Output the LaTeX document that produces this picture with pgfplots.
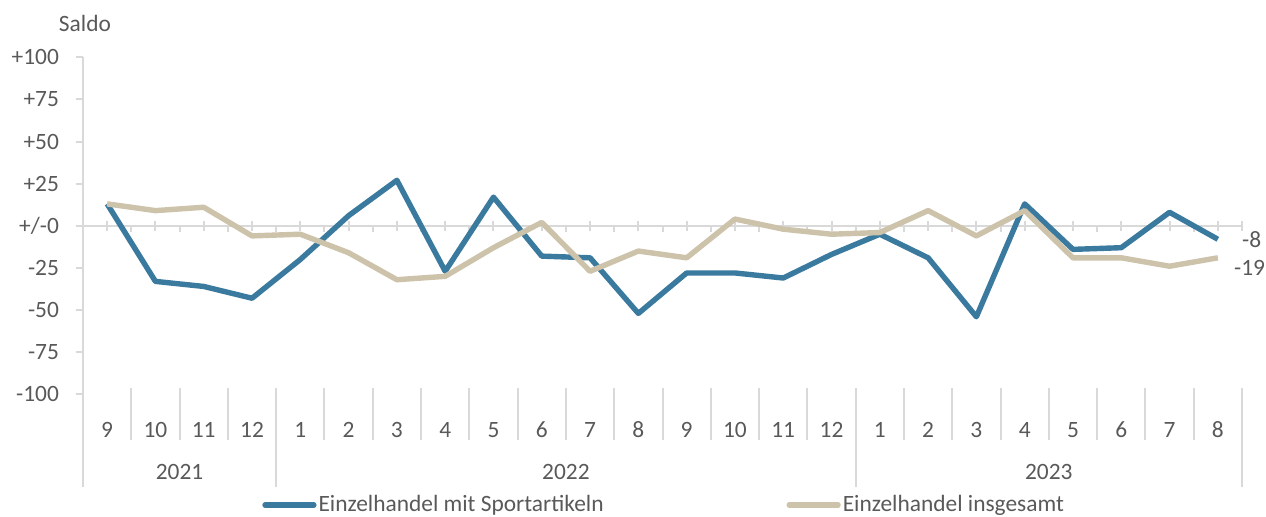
\documentclass[border=0pt]{standalone}
\usepackage{pgfplots}
\pgfplotsset{compat=1.18}
\usepackage{fontspec}
\setmainfont{Carlito}
\definecolor{sblue}{HTML}{3B7A9F}
\definecolor{stan}{HTML}{CDC2AA}
\definecolor{txt}{HTML}{595959}
\definecolor{axg}{HTML}{D9D9D9}
\begin{document}
\begin{tikzpicture}[font=\fontsize{11.7}{14}\selectfont, text=txt]
\begin{axis}[
  at={(41.5pt,61.35pt)}, anchor=south west,
  scale only axis, width=579.5pt, height=168.5pt,
  xmin=-0.5, xmax=23.5, ymin=-100, ymax=100,
  clip=false,
  axis y line*=left, axis x line*=bottom,
  x axis line style={draw=none},
  y axis line style={axg, line width=1pt},
  ytick={-100,-75,-50,-25,0,25,50,75,100},
  yticklabels={-100,-75,-50,-25,+/-0,+25,+50,+75,+100},
  ytick style={axg, line width=1pt},
  major tick length=3.5pt, tick align=outside,
  yticklabel style={anchor=east, inner sep=0pt, xshift=-8.35pt},
  xtick={0,...,23},
  xticklabels={9,10,11,12,1,2,3,4,5,6,7,8,9,10,11,12,1,2,3,4,5,6,7,8},
  xtick style={draw=none},
  xticklabel style={anchor=center, inner sep=0pt, yshift=-14.35pt},
  legend columns=2,
  legend style={at={(0.1544,-0.3285)}, anchor=west, draw=none, fill=none,
    inner sep=0pt, nodes={inner sep=1pt, text=txt}},
  legend image code/.code={\draw[#1, line cap=round] (0pt,0pt) -- (24.4pt,0pt);},
]
% zero line with ticks
\draw[axg, line width=1pt] (axis cs:-0.5,0) -- (axis cs:23.5,0);
\pgfplotsinvokeforeach{0,1,2,3,4,5,6,7,8,9,10,11,12,13,14,15,16,17,18,19,20,21,22,23,23.5}{
  \draw[axg, line width=1pt] (axis cs:#1,2.6) -- (axis cs:#1,-2.8);
}
\pgfplotsinvokeforeach{0.5,1.5,2.5,3.5,4.5,5.5,6.5,7.5,8.5,9.5,10.5,11.5,12.5,13.5,14.5,15.5,16.5,17.5,18.5,19.5,20.5,21.5,22.5}{
  \draw[axg, line width=1pt] (axis cs:#1,0) -- (axis cs:#1,-3.4);
}
% category separators
\pgfplotsinvokeforeach{0.5,1.5,2.5,4.5,5.5,6.5,7.5,8.5,9.5,10.5,11.5,12.5,13.5,14.5,16.5,17.5,18.5,19.5,20.5,21.5,22.5}{
  \draw[axg, line width=1pt] (axis cs:#1,-96.3) -- (axis cs:#1,-127.1);
}
\pgfplotsinvokeforeach{-0.5,3.5,15.5,23.5}{
  \draw[axg, line width=1pt] (axis cs:#1,-96.3) -- (axis cs:#1,-155);
}
\node[anchor=center] at (axis cs:1.5,-146.1) {2021};
\node[anchor=center] at (axis cs:9.5,-146.1) {2022};
\node[anchor=center] at (axis cs:19.5,-146.1) {2023};
\node[anchor=center] at (axis description cs:0.0017,1.099) {Saldo};

\addplot[sblue, line width=2.7pt, line join=round] coordinates {
(0,13) (1,-33) (2,-36) (3,-43) (4,-20) (5,6) (6,27) (7,-27) (8,17) (9,-18) (10,-19) (11,-52)
(12,-28) (13,-28) (14,-31) (15,-17) (16,-5) (17,-19) (18,-54) (19,13) (20,-14) (21,-13) (22,8) (23,-8)
} node[pos=1, anchor=west, inner sep=0pt, xshift=10.8pt, text=txt] {-8};
\addlegendentry{\makebox[233pt][l]{Einzelhandel mit Sportartikeln}}
\addplot[stan, line width=2.7pt, line join=round] coordinates {
(0,13) (1,9) (2,11) (3,-6) (4,-5) (5,-16) (6,-32) (7,-30) (8,-13) (9,2) (10,-27) (11,-15)
(12,-19) (13,4) (14,-2) (15,-5) (16,-4) (17,9) (18,-6) (19,9) (20,-19) (21,-19) (22,-24) (23,-19)
} node[pos=1, anchor=west, inner sep=0pt, xshift=6.8pt, yshift=-5pt, text=txt] {-19};
\addlegendentry{Einzelhandel insgesamt}
\end{axis}
\pgfresetboundingbox
\path[use as bounding box] (0,0) rectangle (633pt,258.5pt);
\end{tikzpicture}
\end{document}
